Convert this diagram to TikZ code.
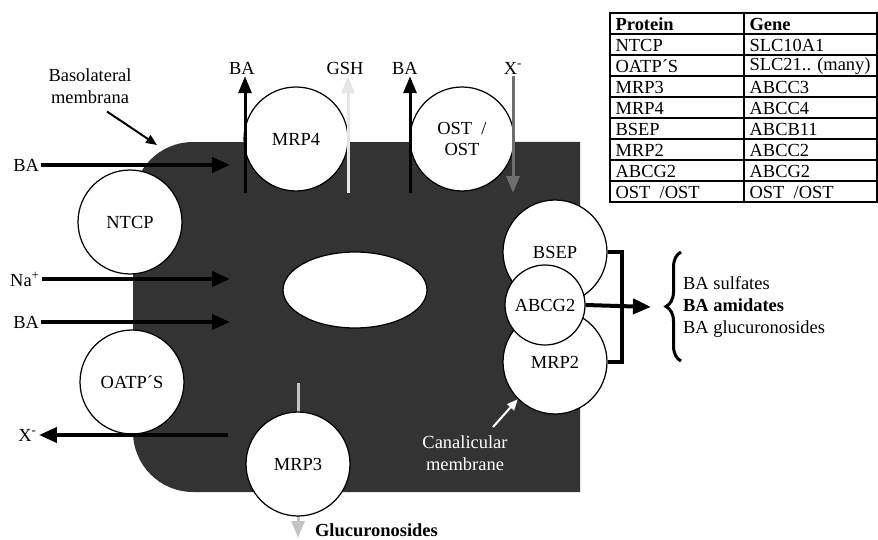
\documentclass[tikz,border=0pt]{standalone}
\usepackage{fontspec}
\setmainfont{Liberation Serif}
\usetikzlibrary{arrows.meta,shapes.geometric,decorations.pathreplacing}
\definecolor{cellgray}{HTML}{333333}
\definecolor{gshgray}{HTML}{E6E6E6}
\definecolor{xgray}{HTML}{6E6E6E}
\definecolor{glugray}{HTML}{C4C4C4}

\begin{document}
\begin{tikzpicture}[x=0.02cm, y=-0.02cm, font=\fontsize{10.5}{12.5}\selectfont]
    % Define styles
    \tikzstyle{prot} = [circle, draw, line width=0.7pt, fill=white, minimum size=2.08cm, inner sep=0pt, align=center]
    \tikzstyle{lab} = [inner sep=1pt]
    \tikzstyle{fat} = [line width=0.08cm, -{Triangle[length=0.36cm, width=0.3cm]}]
    \tikzstyle{vert} = [line width=0.06cm, -{Triangle[length=0.34cm, width=0.26cm]}]
    \tikzstyle{pointer} = [line width=0.04cm, -{Triangle[length=0.22cm, width=0.18cm]}]
    \tikzstyle{cell} = [rectangle, inner sep=3pt, anchor=west]

    \useasboundingbox (0,0) rectangle (878,540);

    % Hepatocyte
    \fill[cellgray] (580,142) -- (580,492) -- (193,492)
        arc[start angle=270, end angle=180, radius=1.2cm] -- (133,202)
        arc[start angle=180, end angle=90, radius=1.2cm] -- cycle;
    \node[ellipse, draw, line width=0.7pt, fill=white, minimum width=2.88cm, minimum height=1.52cm] (nucleus) at (355,290) {};

    % MRP3 export, runs behind the circle
    \coordinate (m3top) at (298,383);
    \coordinate (m3bot) at (298,538);
    \draw[vert, glugray] (m3top) -- (m3bot);

    % Transporters
    \node[prot] (ntcp) at (130,222) {NTCP};
    \node[prot] (oatp) at (132,382) {OATP´S};
    \node[prot] (mrp4) at (296,139) {MRP4};
    \node[prot] (ost) at (462,139) {OST~~/\\OST};
    \node[prot] (mrp3) at (298,464) {MRP3};
    \node[prot] (bsep) at (555,252) {BSEP};
    \node[prot] (mrp2) at (555,362) {MRP2};
    \node[prot, minimum size=1.6cm] (abcg) at (545,305) {ABCG2};

    % Basolateral side
    \node[lab, align=center] (baso) at (90,86) {Basolateral\\membrana};
    \coordinate (bm) at (157,145);
    \draw[pointer] ([xshift=0.34cm, yshift=-0.12cm]baso.south) -- (bm);

    \node[lab, anchor=east] (ba1) at (41,165) {BA};
    \node[lab, anchor=east] (na) at (42,279) {Na\textsuperscript{+}};
    \node[lab, anchor=east] (ba2) at (41,322) {BA};
    \node[lab, anchor=east] (xm) at (39,435) {X\textsuperscript{-}};
    \coordinate (t1) at (230,165);
    \coordinate (t2) at (230,279);
    \coordinate (t3) at (230,322);
    \coordinate (x0) at (228,435);
    \draw[fat] (ba1.east) -- (t1);
    \draw[fat] (na.east) -- (t2);
    \draw[fat] (ba2.east) -- (t3);
    \draw[fat] (x0) -- (xm.east);

    % Top side
    \node[lab] (ba3) at (242,68) {BA};
    \node[lab] (gsh) at (345,68) {GSH};
    \node[lab] (ba4) at (405,68) {BA};
    \node[lab] (xo) at (513,68) {X\textsuperscript{-}};
    \coordinate (v1) at (245,193);
    \coordinate (v2) at (348,193);
    \coordinate (v3) at (410,193);
    \coordinate (v4) at (513,193);
    \draw[vert] (v1) -- (v1 |- ba3.south);
    \draw[vert, gshgray] (v2) -- (v2 |- gsh.south);
    \draw[vert] (v3) -- (v3 |- ba4.south);
    \draw[vert, xgray] (xo.south) -- (v4);

    % Canalicular side
    \coordinate (brk) at (622,307);
    \coordinate (tipR) at (651,307);
    \draw[line width=0.08cm] (bsep.east) -| (brk) |- (mrp2.east);
    \draw[fat] (abcg.east) -- (tipR);
    \coordinate (br1) at (681,361);
    \coordinate (br2) at (681,252);
    \draw[line width=0.06cm, decorate, decoration={brace, amplitude=0.3cm}] (br1) -- (br2);
    \node[lab, anchor=west, align=left] (prod) at (681,307) {BA sulfates\\\textbf{BA amidates}\\BA glucuronosides};

    \node[lab, align=center, text=white] (canal) at (465,453) {Canalicular\\membrane};
    \coordinate (cm) at (493,427);
    \draw[pointer, white] (cm) -- (mrp2.225);

    \node[lab, anchor=west] (gluc) at (313,530) {\textbf{Glucuronosides}};

    % Table
    \node[cell] (hp) at (610,24.5) {\textbf{Protein}};
    \node[cell] (hg) at (744,24.5) {\textbf{Gene}};
    \foreach \p/\g [count=\i] in {NTCP/SLC10A1, OATP´S/SLC21.. (many), MRP3/ABCC3, MRP4/ABCC4, BSEP/ABCB11, MRP2/ABCC2, ABCG2/ABCG2, {OST~~/OST}/{OST~~/OST}} {
        \node[cell] (p\i) at (610,24.5+21*\i) {\p};
        \node[cell] (g\i) at (744,24.5+21*\i) {\g};
    }
    \draw[line width=0.6pt] (610,13) rectangle (877,202);
    \draw[line width=0.6pt] (744,13) -- (744,202);
    \foreach \i in {1,...,8}
        \draw[line width=0.6pt] (610,13+21*\i) -- (877,13+21*\i);
\end{tikzpicture}
\end{document}
